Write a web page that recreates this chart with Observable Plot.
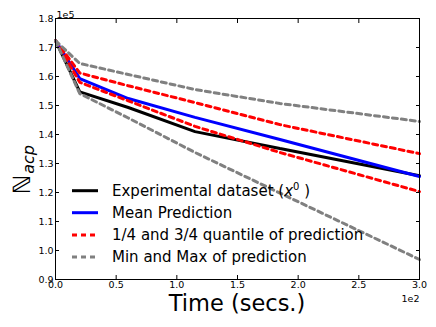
<!DOCTYPE html>
<html><head><meta charset="utf-8">
<script src="https://cdn.jsdelivr.net/npm/d3@7"></script>
<script src="https://cdn.jsdelivr.net/npm/@observablehq/plot@0.6"></script>
<style>body{margin:0;background:#fff} svg{display:block;font-family:"DejaVu Sans",sans-serif}</style>
</head><body><div id="chart"></div>
<script>
// time in seconds
const times = [0, 20, 60, 115, 185, 300];
// N_acp values
const experimental = [172400, 154700, 149300, 141000, 135200, 125800];
const meanPred     = [172400, 159300, 152400, 145900, 138300, 125500];
const q3Pred       = [172400, 161200, 156800, 151000, 143400, 133400];
const q1Pred       = [172400, 158000, 151600, 142800, 133800, 120300];
const maxPred      = [172400, 164500, 160700, 155500, 150700, 144500];
const minPred      = [172400, 154100, 145700, 133800, 119800, 96900];

const xTicks = [0, 50, 100, 150, 200, 250, 300];
const yTicks = [90000, 100000, 110000, 120000, 130000, 140000, 150000, 160000, 170000, 180000];

const legendLabels = ["Experimental dataset", "Mean Prediction", "1/4 and 3/4 quantile of prediction", "Min and Max of prediction"];

const series = [
  {name: "exp", values: experimental, stroke: "black", dash: null},
  {name: "mean", values: meanPred, stroke: "#0000ff", dash: null},
  {name: "q3", values: q3Pred, stroke: "#ff0000", dash: "5,4"},
  {name: "q1", values: q1Pred, stroke: "#ff0000", dash: "5,4"},
  {name: "max", values: maxPred, stroke: "#808080", dash: "5,4"},
  {name: "min", values: minPred, stroke: "#808080", dash: "5,4"}
];

const W = 436, H = 327, mL = 55, mR = 17, mT = 18, mB = 48;

const lineMarks = series.map(s => Plot.line(times.map((t, i) => ({t, v: s.values[i]})), {
  x: "t", y: "v", stroke: s.stroke, strokeWidth: 3, strokeDasharray: s.dash, strokeLinejoin: "miter"
}));

const fx = d => (d / 100).toFixed(1);
const fy = d => (d / 1e5).toFixed(1);

const chart = Plot.plot({
  width: W, height: H,
  marginLeft: mL, marginRight: mR, marginTop: mT, marginBottom: mB,
  style: {fontFamily: "DejaVu Sans, sans-serif", background: "white"},
  x: {domain: [0, 300]},
  y: {domain: [90000, 180000]},
  marks: [
    ...lineMarks,
    Plot.frame({stroke: "black", strokeWidth: 1}),
    Plot.axisX({anchor: "bottom", ticks: xTicks, tickFormat: fx, tickSize: -4, tickPadding: 6, fontSize: 9.5, label: null}),
    Plot.axisX({anchor: "top", ticks: xTicks, tickFormat: () => "", tickSize: -4, label: null}),
    Plot.axisY({anchor: "left", ticks: yTicks, tickFormat: fy, tickSize: -4, tickPadding: 6, fontSize: 9.5, label: null}),
    Plot.axisY({anchor: "right", ticks: yTicks, tickFormat: () => "", tickSize: -4, label: null}),
    Plot.text(["1e5"], {frameAnchor: "top-left", dx: 1, dy: -1, textAnchor: "start", lineAnchor: "bottom", fontSize: 9.5}),
    Plot.text(["1e2"], {frameAnchor: "bottom-right", dy: 22, textAnchor: "end", lineAnchor: "bottom", fontSize: 9.5})
  ]
});
document.getElementById("chart").appendChild(chart);

const svg = d3.select(chart);

// x axis label
svg.append("text").attr("x", mL + (W - mL - mR) / 2).attr("y", 311)
  .attr("text-anchor", "middle").attr("font-size", 22.5).attr("fill", "black")
  .text("Time (secs.)");

// y axis label: ℕ_acp (rotated)
const yl = svg.append("text").attr("transform", `translate(30,${194}) rotate(-90)`)
  .attr("text-anchor", "start").attr("fill", "black");
yl.append("tspan").attr("font-size", 24).text("ℕ");
yl.append("tspan").attr("font-size", 16).attr("font-style", "italic").attr("dy", 4).attr("dx", 1).text("acp");

// legend
const legY = [190.7, 212.7, 235, 257];
const legStyles = [series[0], series[1], series[2], series[4]];
legStyles.forEach((s, i) => {
  svg.append("line").attr("x1", 72).attr("x2", 98).attr("y1", legY[i]).attr("y2", legY[i])
    .attr("stroke", s.stroke).attr("stroke-width", 3).attr("stroke-dasharray", s.dash);
  const t = svg.append("text").attr("x", 112).attr("y", legY[i] + 5.3)
    .attr("text-anchor", "start").attr("font-size", 15).attr("fill", "black");
  if (i === 0) {
    t.append("tspan").text(legendLabels[i] + " (");
    t.append("tspan").attr("font-style", "italic").text("x");
    t.append("tspan").attr("font-size", 10).attr("dy", -6).text("0");
    t.append("tspan").attr("dy", 6).text(" )");
  } else {
    t.text(legendLabels[i]);
  }
});
</script>
</body></html>
